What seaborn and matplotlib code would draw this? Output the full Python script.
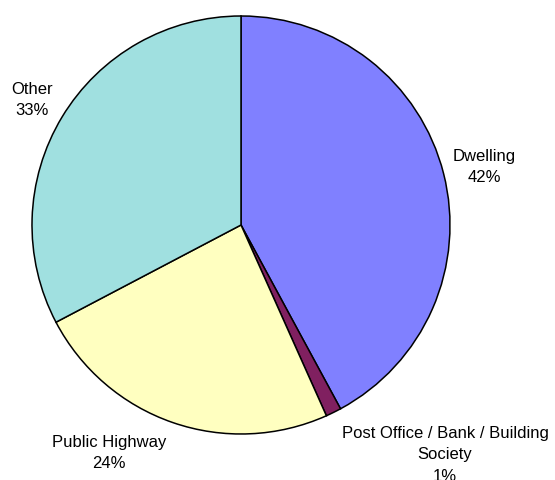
import matplotlib
matplotlib.use("Agg")
import matplotlib.pyplot as plt
import seaborn as sns

# slice values (percent)
categories = ["Dwelling", "Post Office / Bank / Building\nSociety", "Public Highway", "Other"]
shares = [42.1, 1.2, 24.0, 32.7]
colors = ["#8080FF", "#802060", "#FFFFC0", "#A0E0E0"]

# label centres in pie-radius units
label_pos = [(1.163, 0.278), (0.976, -1.100), (-0.632, -1.091), (-1.0, 0.598)]

sns.set_theme(style="white")
plt.rcParams["font.family"] = ["Liberation Sans", "DejaVu Sans"]

fig = plt.figure(figsize=(5.55, 4.8), dpi=100)
ax = fig.add_axes([0, 0, 1, 1])

ax.pie(shares, colors=colors, startangle=90, counterclock=False,
       wedgeprops=dict(edgecolor="black", linewidth=1.1))

for name, v, (x, y) in zip(categories, shares, label_pos):
    ax.text(x, y, f"{name}\n{round(v)}%", ha="center", va="center",
            fontsize=12, color="black", linespacing=1.55)

# map data units so the pie sits where it does in the original
ax.set_aspect("auto")
ax.set_xlim(-241 / 209, (555 - 241) / 209)
ax.set_ylim(-(480 - 225) / 209, 225 / 209)
ax.axis("off")

fig.savefig("out.png", dpi=100)
